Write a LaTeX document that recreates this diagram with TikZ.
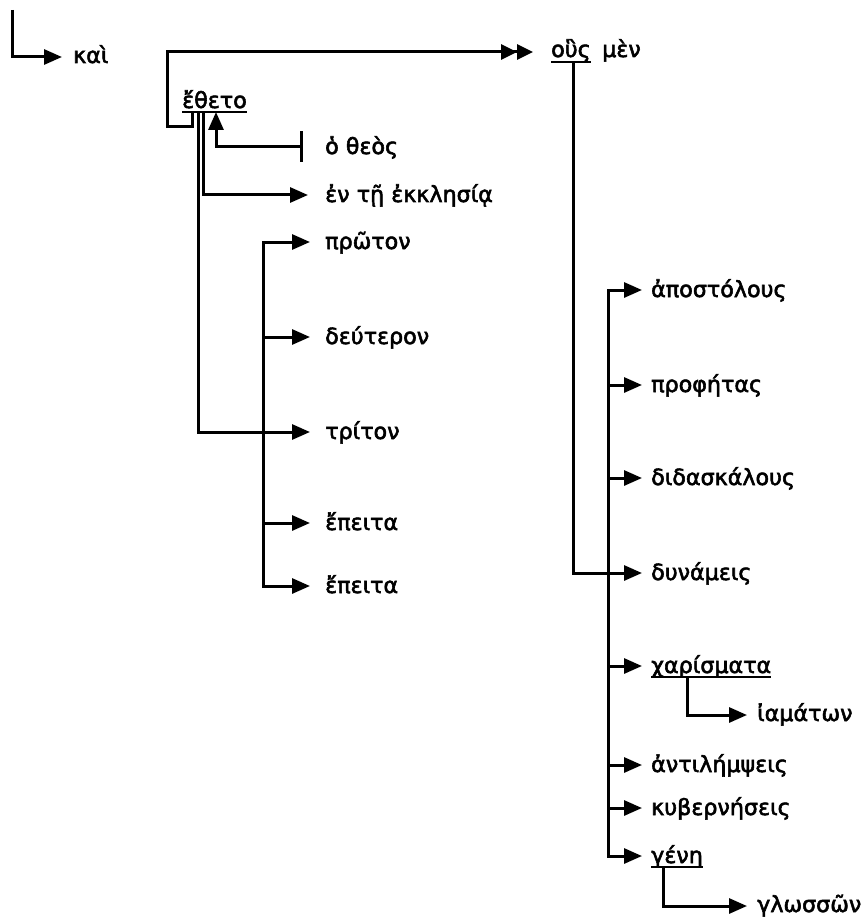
\documentclass[tikz,border=0pt]{standalone}
\usepackage{fontspec}
\newfontfamily\gr{DejaVu Sans}[FakeBold=2.5]
\usetikzlibrary{arrows.meta}
\newlength\wrefsum
\def\fszg{20}
\AtBeginDocument{%
  \settowidth\wrefsum{\gr\fontsize{10pt}{12pt}\selectfont ἀποστόλουςπροφήταςδιδασκάλουςἀντιλήμψειςκυβερνήσεις}%
  \pgfmathsetmacro\fsztmp{10*666/\wrefsum}%
  \xdef\fszg{\fsztmp}}
\newcommand\GRfont{\gr\fontsize{\fszg pt}{\fszg pt}\selectfont}
\begin{document}
\begin{tikzpicture}[x=1pt,y=-1pt,
  lbl/.style={anchor=base west,inner sep=0pt,font=\GRfont},
  ln/.style={line width=3pt,line join=miter},
  arr/.style={ln,-{Triangle[length=18pt,width=15pt]}},
  darr/.style={ln,-{Triangle[length=16pt,width=15pt]Triangle[length=16pt,width=15pt]}},
  tee/.style={ln,{Bar[width=31pt]}-{Triangle[length=18pt,width=15pt]}},
  ul/.style={line width=1.8pt}]
\useasboundingbox (0,0) rectangle (863,917);
% nodes
\node[lbl] (kai) at (73,63) {καὶ};
\node[lbl] (eth) at (182,108) {ἔθετο};
\node[lbl] (theos) at (325,154) {ὁ θεὸς};
\node[lbl] (ekk) at (325,202) {ἐν τῇ ἐκκλησίᾳ};
\node[lbl] (p1) at (325,249) {πρῶτον};
\node[lbl] (p2) at (325,344) {δεύτερον};
\node[lbl] (p3) at (325,439) {τρίτον};
\node[lbl] (p4) at (325,530) {ἔπειτα};
\node[lbl] (p5) at (325,593) {ἔπειτα};
\node[lbl] (ous) at (551,57) {οὓς};
\node[lbl] (men) at (602,57) {μὲν};
\node[lbl] (r1) at (651,297) {ἀποστόλους};
\node[lbl] (r2) at (651,392) {προφήτας};
\node[lbl] (r3) at (651,485) {διδασκάλους};
\node[lbl] (r4) at (651,580) {δυνάμεις};
\node[lbl] (r5) at (651,673) {χαρίσματα};
\node[lbl] (iam) at (757,721) {ἰαμάτων};
\node[lbl] (r6) at (651,772) {ἀντιλήμψεις};
\node[lbl] (r7) at (651,815) {κυβερνήσεις};
\node[lbl] (r8) at (651,863) {γένη};
\node[lbl] (glo) at (757,912) {γλωσσῶν};
% underlines
\draw[ul] ([yshift=-4pt]eth.base west) -- ([yshift=-4pt]eth.base east);
\draw[ul] ([yshift=-5pt]ous.base west) -- ([yshift=-5pt]ous.base east);
\draw[ul] ([yshift=-4pt]r5.base west) -- ([yshift=-4pt]r5.base east);
\draw[ul] ([yshift=-4pt]r8.base west) -- ([yshift=-4pt]r8.base east);
% helper coordinates
\coordinate (start) at (12,10);
\coordinate (j1) at (167,127);
\coordinate (bx) at (263,0);
\coordinate (bx2) at (608,0);
\foreach \n in {p1,p2,p3,p4,p5}{\coordinate (t\n) at ([xshift=-15pt,yshift=7pt]\n.base west);}
\foreach \n in {r1,r2,r3,r4,r5,r6,r7,r8}{\coordinate (t\n) at ([xshift=-9pt,yshift=7pt]\n.base west);}
% connectors
\draw[arr] (start) |- ([xshift=-11pt,yshift=6pt]kai.base west);
\draw[darr] ([xshift=10pt,yshift=-4pt]eth.base west) |- (j1) |- ([xshift=-18pt,yshift=5pt]ous.base west);
\draw[arr] ([xshift=16pt,yshift=-4pt]eth.base west) |- (tp3);
\draw[arr] ([xshift=21pt,yshift=-4pt]eth.base west) |- ([xshift=-17pt,yshift=7pt]ekk.base west);
\draw[tee] ([xshift=-22pt,yshift=7pt]theos.base west) -| ([xshift=34pt,yshift=-4pt]eth.base west);
% adverb bracket
\draw[arr] (bx |- tp5) |- (tp1);
\draw[arr] (bx |- tp1) |- (tp5);
\draw[arr] (bx |- tp2) -- (tp2);
\draw[arr] (bx |- tp4) -- (tp4);
% right column
\draw[arr] ([xshift=22pt,yshift=-5pt]ous.base west) |- (tr4);
\draw[arr] (bx2 |- tr8) |- (tr1);
\draw[arr] (bx2 |- tr1) |- (tr8);
\foreach \n in {r2,r3,r5,r6,r7}{\draw[arr] (bx2 |- t\n) -- (t\n);}
\draw[arr] ([xshift=36pt,yshift=-4pt]r5.base west) |- ([xshift=-10pt,yshift=6pt]iam.base west);
\draw[arr] ([xshift=12pt,yshift=-4pt]r8.base west) |- ([xshift=-10pt,yshift=6pt]glo.base west);
\end{tikzpicture}
\end{document}
